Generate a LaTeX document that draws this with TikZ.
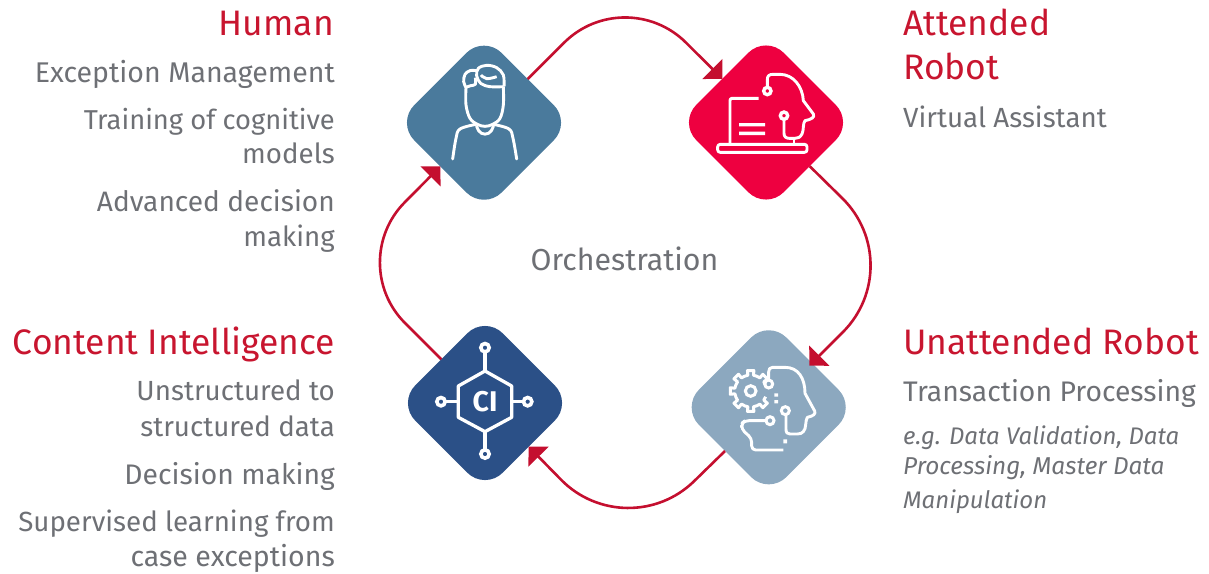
\documentclass[tikz,border=0pt]{standalone}
\usepackage{fontspec}
\setmainfont{Fira Sans}
\usetikzlibrary{arrows.meta,calc,shapes.geometric}
\definecolor{redline}{HTML}{C40F2F}
\definecolor{headred}{HTML}{C8152F}
\definecolor{bodygrey}{HTML}{6E7075}
\definecolor{humanblue}{HTML}{4A7A9C}
\definecolor{attred}{HTML}{EE0040}
\definecolor{unatblue}{HTML}{8CA8BF}
\definecolor{ciblue}{HTML}{2B5087}
\tikzset{
  tile/.style={shape=diamond,aspect=1,inner sep=0pt,outer sep=0pt,minimum width=174.8pt,minimum height=174.8pt,rounded corners=25pt,fill=#1},
  conn/.style={draw=redline,line width=2.6pt,-{Triangle[length=14pt,width=28pt,fill=redline]}},
  head/.style={text=headred,font=\fontsize{35.4}{36}\selectfont,inner sep=0pt},
  body/.style={text=bodygrey,font=\fontsize{27.7}{28}\selectfont,inner sep=0pt},
  note/.style={text=bodygrey,font=\fontsize{24}{24}\selectfont\itshape,inner sep=0pt},
  leftt/.style={anchor=base east},
  rightt/.style={anchor=base west},
  ico/.style={draw=white,line width=2.9pt,line join=round,fill=none},
  icob/.style={draw=white,line width=3.3pt,line join=round,fill=none},
  zoomed/.style={x=0.33333pt,y=-0.33333pt}
}
\begin{document}
\begin{tikzpicture}[x=1pt,y=-1pt]
\useasboundingbox (0,0) rectangle (1209,573);
\node[tile=humanblue] (h) at (484,122.7) {};
\node[tile=attred] (a) at (766,122.5) {};
\node[tile=ciblue] (c) at (485,403) {};
\node[tile=unatblue] (u) at (768.7,407.3) {};
% connectors
\coordinate (apexT) at ($(h.north east)!.5!(a.north west)+(0,-97)$);
\coordinate (apexR) at ($(a.south east)!.5!(u.north east)+(99,0)$);
\coordinate (apexB) at ($(u.south west)!.5!(c.south east)+(0,98)$);
\coordinate (apexL) at ($(c.north west)!.5!(h.south west)+(-96,0)$);
\draw[conn,rounded corners=86pt] (h.north east) -- (apexT) -- (a.north west);
\draw[conn,rounded corners=95pt] (a.south east) -- (apexR) -- ($(u.north east)+(-3,2)$);
\draw[conn,rounded corners=94pt] (u.south west) -- (apexB) -- (c.south east);
\draw[conn,rounded corners=85pt] (c.north west) -- (apexL) -- (h.south west);
% human icon
\begin{scope}[shift={(440,55)},zoomed]
\draw[ico] plot[smooth,tension=.6] coordinates {(78,98) (78,150) (90,190) (112,208) (135,214) (158,208) (180,190) (190,150) (190,95)};
\draw[ico] plot[smooth,tension=.6] coordinates {(78,98) (71,80) (75,58) (90,47) (110,47)};
\draw[ico] plot[smooth,tension=.6] coordinates {(78,97) (92,92) (106,88) (106,68)};
\draw[ico] plot[smooth,tension=.6] coordinates {(190,95) (150,95) (122,85) (110,62) (115,40) (140,31) (170,38) (190,60) (192,95)};
\draw[ico] plot[smooth,tension=.7] coordinates {(123,60) (140,71) (170,65)};
\draw[ico,line cap=round] plot[smooth,tension=.6] coordinates {(38,312) (48,250) (60,222) (108,208)};
\draw[ico,line cap=round] plot[smooth,tension=.6] coordinates {(230,312) (219,250) (207,222) (160,208)};
\draw[ico,rounded corners=4pt] (110,212) -- (113,228) -- (135,241) -- (157,228) -- (160,212);
\end{scope}
% attended robot icon
\begin{scope}[shift={(690,40)},zoomed]
\draw[ico,rounded corners=2pt] (120,312) -- (120,175) -- (206,175);
\draw[ico,rounded corners=2.5pt] (83,313) rectangle (351,337);
\fill[white] (147,249) rectangle (225,259) (147,275) rectangle (225,285);
\draw[ico] (232,142) -- (232,118) .. controls (232,108) and (238,103) .. (248,103) -- (270,103) .. controls (310,103) and (338,140) .. (340,182) -- (370,222) .. controls (375,232) and (365,238) .. (345,242) .. controls (338,250) and (342,270) .. (336,282) .. controls (330,292) and (325,295) .. (315,295) -- (298,295) .. controls (288,295) and (282,290) .. (282,280) -- (282,238);
\draw[ico] (312,295) -- (312,313);
\draw[white,line width=3.4pt] (232,153) circle (11) (282,227) circle (11);
\end{scope}
% unattended robot icon
\begin{scope}[shift={(690,330)},zoomed]
\draw[ico] (236,150) -- (236,125) .. controls (236,117) and (240,112) .. (248,112) -- (285,112) .. controls (325,112) and (345,145) .. (345,190) -- (374,243) .. controls (378,252) and (370,258) .. (352,262) .. controls (345,272) and (350,295) .. (340,305) .. controls (335,310) and (330,312) .. (322,312) -- (300,312) .. controls (292,312) and (288,308) .. (288,298) -- (288,254);
\draw[ico,rounded corners=4pt] (229,272) -- (165,272) -- (155,280) -- (155,298) -- (185,325) -- (185,360) -- (280,360);
\draw[white,line width=3pt] (236,162) circle (12) (286,242) circle (12) (240,272) circle (12);
\draw[white,line width=3pt] (182,183) circle (16);
\fill[white] (253,190) rectangle (264,200) (253,210) rectangle (264,220) (280,328) rectangle (291,340);
\begin{scope}[shift={(182,183)}]
\draw[ico,line width=3pt] (-22:48)
 \foreach \g in {-45,-90,-135,-180,-225,-270,-315}{ -- (\g+10:48) -- (\g+9:62) -- (\g-9:62) -- (\g-10:48) -- (\g-24:48)};
\end{scope}
\end{scope}
% CI icon
\begin{scope}[shift={(390,310)},zoomed]
\draw[icob] (285,183) -- (365,228) -- (365,322) -- (285,365) -- (205,322) -- (205,228) -- cycle;
\draw[icob] (285,183) -- (285,125) (285,365) -- (285,420) (205,275) -- (165,275) (365,275) -- (401,275);
\draw[white,line width=3.6pt] (285,113) circle (12.5) (285,432) circle (12.5) (153,275) circle (12.5) (413,275) circle (12.5);
\node[text=white,inner sep=0pt,font=\fontsize{28.5}{28}\selectfont\bfseries] (cilabel) at (285,276) {CI};
\end{scope}
% left texts
\node[head,leftt] (t1) at (334,35) {Human};
\node[body,leftt] (t2) at (335,82) {\fontsize{28.5}{28}\selectfont Exception Management};
\node[body,leftt] (t3) at (335,129) {\fontsize{27.3}{28}\selectfont Training of cognitive};
\node[body,leftt] (t4) at (335,163) {models};
\node[body,leftt] (t5) at (335,211) {\fontsize{28.1}{28}\selectfont Advanced decision};
\node[body,leftt] (t6) at (335,246) {making};
\node[head,leftt] (t7) at (335,354) {Content Intelligence};
\node[body,leftt] (t8) at (335,400) {Unstructured to};
\node[body,leftt] (t9) at (335,436) {structured data};
\node[body,leftt] (t10) at (335,484) {\fontsize{28.3}{28}\selectfont Decision making};
\node[body,leftt] (t11) at (335,531) {Supervised learning from};
\node[body,leftt] (t12) at (335,566) {\fontsize{28.5}{28}\selectfont case exceptions};
% centre
\node[body,anchor=base] (orch) at (624.5,270) {\fontsize{30.3}{30}\selectfont Orchestration};
% right texts
\node[head,rightt] (t13) at (903,35) {Attended};
\node[head,rightt] (t14) at (903,79) {Robot};
\node[body,rightt] (t15) at (903,127) {Virtual Assistant};
\node[head,rightt] (t16) at (903,354) {Unattended Robot};
\node[body,rightt] (t17) at (903,401) {\fontsize{28.3}{28}\selectfont Transaction Processing};
\node[note,rightt] (t18) at (903,444) {e.g. Data Validation, Data};
\node[note,rightt] (t19) at (903,474) {\fontsize{24.4}{24}\selectfont Processing, Master Data};
\node[note,rightt] (t20) at (903,508) {Manipulation};
\end{tikzpicture}
\end{document}
